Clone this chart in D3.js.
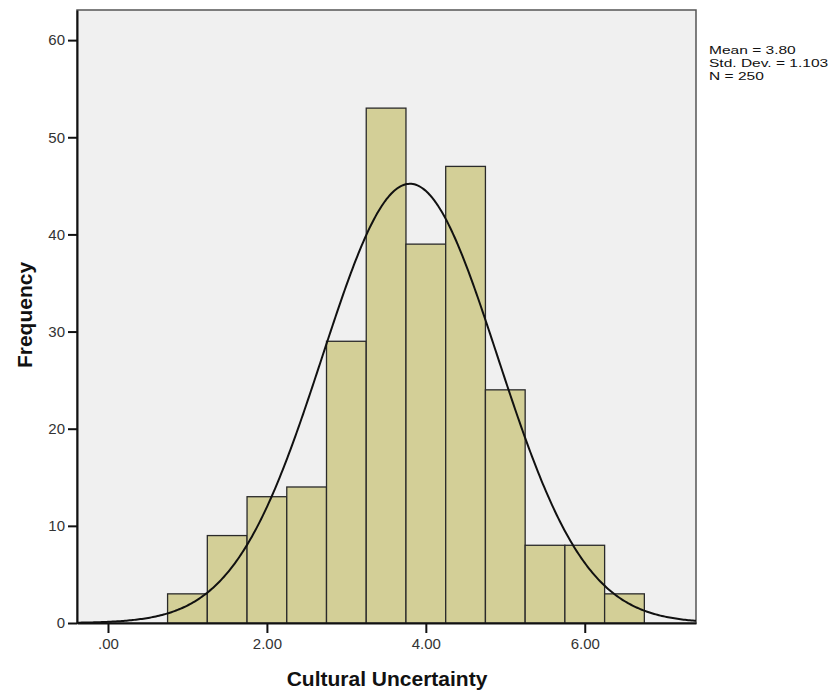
<!DOCTYPE html>
<html>
<head>
<meta charset="utf-8">
<script src="https://cdn.jsdelivr.net/npm/d3@7/dist/d3.min.js"></script>
<style>
  body { margin: 0; background: #fff; }
  svg { display: block; font-family: "Liberation Sans", Arial, sans-serif; }
</style>
</head>
<body>
<div id="chart"></div>
<script>
// histogram bins (lower edge, upper edge) and counts
const binStarts = [0.75, 1.25, 1.75, 2.25, 2.75, 3.25, 3.75, 4.25, 4.75, 5.25, 5.75, 6.25];
const binWidth = 0.5;
const counts = [3, 9, 13, 14, 29, 53, 39, 47, 24, 8, 8, 3];
const xTicks = [0, 2, 4, 6];
const yTicks = [0, 10, 20, 30, 40, 50, 60];
const stats = ["Mean = 3.80", "Std. Dev. = 1.103", "N = 250"];
const mean = 3.80, sd = 1.103, n = 250;

const width = 834, height = 693;
const plot = { left: 77, top: 10, right: 696, bottom: 623 };

const svg = d3.select("#chart").append("svg")
  .attr("width", width)
  .attr("height", height);

const x = d3.scaleLinear().domain([-0.39, 7.40]).range([plot.left, plot.right]);
const y = d3.scaleLinear().domain([0, 63.1]).range([plot.bottom, plot.top]);

// plot background
svg.append("rect")
  .attr("x", plot.left).attr("y", plot.top)
  .attr("width", plot.right - plot.left).attr("height", plot.bottom - plot.top)
  .attr("fill", "#f0f0f0")
  .attr("stroke", "#555").attr("stroke-width", 1.5);

const bins = binStarts.map((s, i) => ({ x0: s, x1: s + binWidth, count: counts[i] }));

svg.append("g")
  .selectAll("rect")
  .data(bins)
  .join("rect")
    .attr("x", d => x(d.x0))
    .attr("y", d => y(d.count))
    .attr("width", d => x(d.x1) - x(d.x0))
    .attr("height", d => y(0) - y(d.count))
    .attr("fill", "#d3cf97")
    .attr("stroke", "#2a2a2a")
    .attr("stroke-width", 1.3);

// fitted normal curve from the stated mean / sd / N
const xs = d3.range(0, 401).map(i => x.domain()[0] + (x.domain()[1] - x.domain()[0]) * i / 400);
const curve = xs.map(v => [v, n * binWidth * Math.exp(-0.5 * ((v - mean) / sd) ** 2) / (sd * Math.sqrt(2 * Math.PI))]);
svg.append("path")
  .datum(curve)
  .attr("fill", "none")
  .attr("stroke", "#111")
  .attr("stroke-width", 2)
  .attr("d", d3.line().x(d => x(d[0])).y(d => y(d[1])));

// axes
const xAxis = svg.append("g")
  .attr("transform", `translate(0,${plot.bottom})`)
  .call(d3.axisBottom(x).tickValues(xTicks).tickSize(10).tickSizeOuter(0).tickPadding(5)
    .tickFormat(d => d === 0 ? ".00" : d3.format(".2f")(d)));
const yAxis = svg.append("g")
  .attr("transform", `translate(${plot.left},0)`)
  .call(d3.axisLeft(y).tickValues(yTicks).tickSize(9).tickSizeOuter(0).tickPadding(3));

[xAxis, yAxis].forEach(g => {
  g.select(".domain").attr("stroke", "#111").attr("stroke-width", 2);
  g.selectAll(".tick line").attr("stroke", "#111").attr("stroke-width", 2);
  g.selectAll(".tick text").attr("fill", "#333").attr("font-size", 15);
});

// stats legend, stretched sideways like the SPSS font
svg.append("g")
  .attr("transform", "translate(709,0) scale(1.35,1)")
  .selectAll("text")
  .data(stats)
  .join("text")
    .attr("x", 0)
    .attr("y", (d, i) => 54 + i * 13)
    .attr("font-size", 11.5)
    .attr("fill", "#111")
    .text(d => d);

// axis titles
svg.append("text")
  .attr("x", 387).attr("y", 686)
  .attr("text-anchor", "middle")
  .attr("font-size", 21).attr("font-weight", "bold")
  .attr("fill", "#111")
  .text("Cultural Uncertainty");

svg.append("text")
  .attr("transform", "translate(32,315) rotate(-90)")
  .attr("text-anchor", "middle")
  .attr("font-size", 21).attr("font-weight", "bold")
  .attr("fill", "#111")
  .text("Frequency");
</script>
</body>
</html>
